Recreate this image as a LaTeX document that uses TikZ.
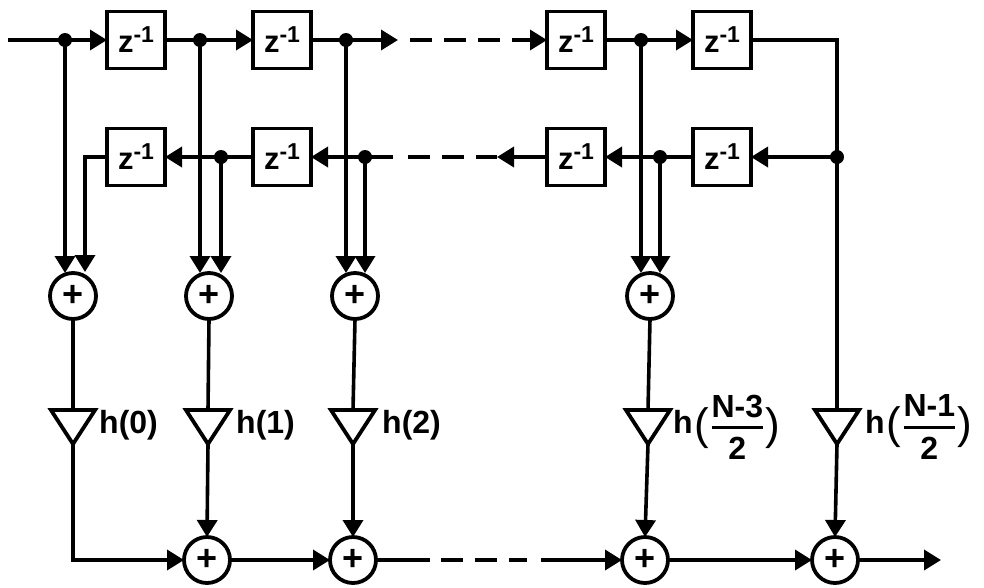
\documentclass[tikz,border=0pt]{standalone}
\usepackage{amsmath}
\usepackage{fontspec}
\setmainfont{Liberation Sans}
\usetikzlibrary{arrows.meta,shapes.geometric}
\tikzset{
  sig/.style={line width=3.6pt},
  arr/.style={sig,-{Triangle[length=17pt,width=20pt]}},
  gap/.style={sig,dash pattern=on 22pt off 12pt},
  delay/.style={draw,line width=3.4pt,fill=white,outer sep=0pt,minimum width=58pt,minimum height=57pt,inner sep=0pt,font=\bfseries\fontsize{31}{31}\selectfont},
  adder/.style={draw,circle,line width=3.8pt,fill=white,outer sep=0pt,minimum size=46pt,inner sep=0pt,font=\bfseries\fontsize{36}{36}\selectfont},
  amp/.style={draw,isosceles triangle,shape border rotate=-90,isosceles triangle apex angle=66,line width=3.8pt,outer sep=0pt,minimum height=34pt,inner sep=0pt,anchor=apex},
  joint/.style={circle,fill=black,minimum size=14pt,inner sep=0pt},
  gain/.style={anchor=west,inner sep=0pt,font=\bfseries\fontsize{32}{34}\selectfont}
}
\newcommand{\zinv}{z\raisebox{10pt}{\fontsize{23}{23}\selectfont -1}}
\newcommand{\bigpar}[1]{\vcenter{\hbox{\mdseries\fontsize{44}{44}\selectfont #1}}}
\newcommand{\hfr}[1]{h\kern2pt$\bigpar{(}\kern1pt\genfrac{}{}{2.6pt}{0}{\text{#1}}{\text{2}}\kern1pt\bigpar{)}$}
\begin{document}
\begin{tikzpicture}[x=1pt,y=-1pt]
\useasboundingbox (0,0) rectangle (984,587);
% delays
\node[delay] (z1) at (136,40) {\zinv};
\node[delay] (z2) at (282,40) {\zinv};
\node[delay] (z3) at (576,40) {\zinv};
\node[delay] (z4) at (722,40) {\zinv};
\node[delay] (z5) at (136,157) {\zinv};
\node[delay] (z6) at (282,157) {\zinv};
\node[delay] (z7) at (576,157) {\zinv};
\node[delay] (z8) at (722,157) {\zinv};
% adders
\node[adder] (a1) at (73,296) {+};
\node[adder] (a2) at (209,296) {+};
\node[adder] (a3) at (355,296) {+};
\node[adder] (a4) at (650,296) {+};
\node[adder] (s2) at (207,560) {+};
\node[adder] (s3) at (353,560) {+};
\node[adder] (s4) at (645,560) {+};
\node[adder] (s5) at (835,560) {+};
% gains
\node[amp] (t1) at (73,444) {};
\node[amp] (t2) at (208,444) {};
\node[amp] (t3) at (353,444) {};
\node[amp] (t4) at (648,444) {};
\node[amp] (t5) at (837,444) {};
\node[gain] (l1) at (99,425) {h(0)};
\node[gain] (l2) at (236,425) {h(1)};
\node[gain] (l3) at (382,425) {h(2)};
\node[gain] (l4) at (673,427) {\hfr{N-3}};
\node[gain] (l5) at (865,427) {\hfr{N-1}};
% joints
\node[joint] (d1) at (65,40) {};
\node[joint] (d2) at (200,40) {};
\node[joint] (d3) at (346,40) {};
\node[joint] (d4) at (641,40) {};
\node[joint] (e2) at (221,157) {};
\node[joint] (e3) at (365,157) {};
\node[joint] (e4) at (660,157) {};
\node[joint] (e5) at (837,157) {};
% free ends
\coordinate (in) at (8,40);
\coordinate (tA) at (398,40);
\coordinate (tB) at (410,40);
\coordinate (tC) at (525,40);
\coordinate (uA) at (393,157);
\coordinate (uB) at (408,157);
\coordinate (uC) at (497,157);
\coordinate (i1) at (85,272);
\coordinate (wA) at (430,560);
\coordinate (wB) at (441,560);
\coordinate (wC) at (527,560);
\coordinate (wD) at (541,560);
\coordinate (out) at (941,560);
% top row
\draw[arr] (in) -- (z1.west);
\draw[arr] (z1.east) -- (z2.west);
\draw[arr] (z2.east) -- (tA);
\draw[gap] (tB) -- (tC);
\draw[arr] (tC) -- (z3.west);
\draw[arr] (z3.east) -- (z4.west);
% bottom delay row
\draw[arr] (e5.center) -- (z8.east);
\draw[arr] (z8.west) -- (z7.east);
\draw[arr] (z7.west) -- (uC);
\draw[gap] (uB) -- (uC);
\draw[arr] (uA) -- (z6.east);
\draw[arr] (z6.west) -- (z5.east);
% taps
\draw[arr] (d1.center) -- (d1 |- a1.north);
\draw[arr] (d2.center) -- (d2 |- a2.north);
\draw[arr] (d3.center) -- (d3 |- a3.north);
\draw[arr] (d4.center) -- (d4 |- a4.north);
\draw[arr] (z5.west) -| (i1);
\draw[arr] (e2.center) -- (e2 |- a2.north);
\draw[arr] (e3.center) -- (e3 |- a3.north);
\draw[arr] (e4.center) -- (e4 |- a4.north);
% to gains
\draw[sig] (a1.south) -- (t1.lower side);
\draw[sig] (a2.south) -- (t2.lower side);
\draw[sig] (a3.south) -- (t3.lower side);
\draw[sig] (a4.south) -- (t4.lower side);
\draw[sig] (z4.east) -| (t5.lower side);
% output
\draw[arr] (t1.apex) |- (s2.west);
\draw[arr] (t2.apex) -- (s2.north);
\draw[arr] (t3.apex) -- (s3.north);
\draw[arr] (t4.apex) -- (s4.north);
\draw[arr] (t5.apex) -- (s5.north);
\draw[arr] (s2.east) -- (s3.west);
\draw[sig] (s3.east) -- (wA);
\draw[gap] (wB) -- (wC);
\draw[arr] (wD) -- (s4.west);
\draw[arr] (s4.east) -- (s5.west);
\draw[arr] (s5.east) -- (out);
\end{tikzpicture}
\end{document}
